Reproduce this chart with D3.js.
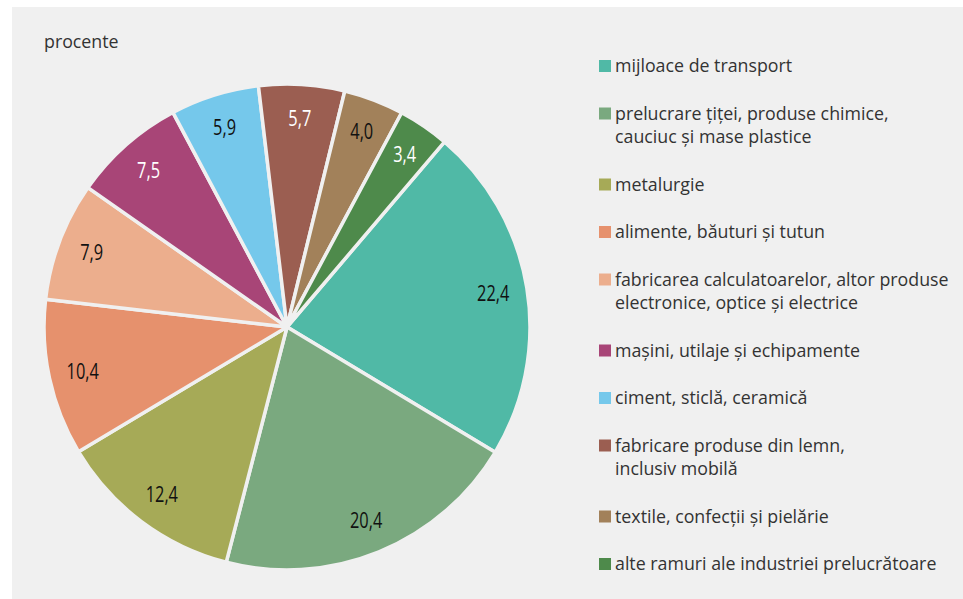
<!DOCTYPE html>
<html>
  <head>
    <meta charset="utf-8">
    <script type="text/javascript" src="https://cdn.jsdelivr.net/npm/d3@7/dist/d3.min.js"></script>
    <style>
      body { margin: 0; background: #fff; }
      svg text { font-family: "Open Sans", "Noto Sans", sans-serif; }
    </style>
  </head>
  <body>
    <div id="viz"></div>
    <script type="text/javascript">
      // ponderea ramurilor industriei prelucratoare, procente
      const categories = [
        "mijloace de transport",
        "prelucrare țiței, produse chimice, cauciuc și mase plastice",
        "metalurgie",
        "alimente, băuturi și tutun",
        "fabricarea calculatoarelor, altor produse electronice, optice și electrice",
        "mașini, utilaje și echipamente",
        "ciment, sticlă, ceramică",
        "fabricare produse din lemn, inclusiv mobilă",
        "textile, confecții și pielărie",
        "alte ramuri ale industriei prelucrătoare"
      ];
      const legendLines = [
        ["mijloace de transport"],
        ["prelucrare țiței, produse chimice,", "cauciuc și mase plastice"],
        ["metalurgie"],
        ["alimente, băuturi și tutun"],
        ["fabricarea calculatoarelor, altor produse", "electronice, optice și electrice"],
        ["mașini, utilaje și echipamente"],
        ["ciment, sticlă, ceramică"],
        ["fabricare produse din lemn,", "inclusiv mobilă"],
        ["textile, confecții și pielărie"],
        ["alte ramuri ale industriei prelucrătoare"]
      ];
      const values = [22.4, 20.4, 12.4, 10.4, 7.9, 7.5, 5.9, 5.7, 4.0, 3.4];
      const colors = ["#50b9a6", "#7aa97f", "#a6aa57", "#e6916d", "#ecae8d",
                      "#a84577", "#75c8eb", "#9b5e51", "#a2815a", "#4e8a4b"];
      const labelColors = ["#111", "#111", "#111", "#111", "#111",
                           "#fff", "#111", "#fff", "#111", "#fff"];

      const width = 963, height = 599;
      const bg = "#f0f0f0";

      const svg = d3.select("#viz")
        .append("svg")
        .attr("width", width)
        .attr("height", height);

      svg.append("rect")
        .attr("x", 12).attr("y", 7)
        .attr("width", width - 12).attr("height", height - 7)
        .attr("fill", bg);

      svg.append("text")
        .attr("x", 44).attr("y", 48)
        .attr("font-size", 17.8)
        .attr("fill", "#333")
        .text("procente");

      // pie
      const cx = 287, cy = 327, radius = 243;
      const start = 40.4 * Math.PI / 180;
      const pie = d3.pie().sort(null)
        .startAngle(start).endAngle(start + 2 * Math.PI);
      const arcs = pie(values);
      const arc = d3.arc().innerRadius(0).outerRadius(radius);
      const labelArc = d3.arc().innerRadius(radius * 0.86).outerRadius(radius * 0.86);

      const g = svg.append("g").attr("transform", "translate(" + cx + "," + cy + ")");

      g.selectAll("path.slice")
        .data(arcs)
        .enter()
        .append("path")
        .attr("class", "slice")
        .attr("d", arc)
        .attr("fill", (d, i) => colors[i])
        .attr("stroke", bg)
        .attr("stroke-width", 3.5)
        .attr("stroke-linejoin", "round");

      // condensed look for the value labels
      g.selectAll("text.val")
        .data(arcs)
        .enter()
        .append("text")
        .attr("class", "val")
        .attr("transform", d => "translate(" + labelArc.centroid(d) + ") scale(0.78,1)")
        .attr("text-anchor", "middle")
        .attr("dy", "0.36em")
        .attr("font-size", 21)
        .attr("fill", (d, i) => labelColors[i])
        .text(d => d3.format(".1f")(d.data).replace(".", ","));

      // legend
      const lx = 599, gap = 47.5, lineH = 23.5;
      let y = 72;
      const legend = svg.append("g");
      legendLines.forEach((lines, i) => {
        const row = legend.append("g").attr("transform", "translate(" + lx + "," + y + ")");
        row.append("rect")
          .attr("x", 0).attr("y", -12)
          .attr("width", 12).attr("height", 12)
          .attr("fill", colors[i]);
        row.selectAll("text")
          .data(lines)
          .enter()
          .append("text")
          .attr("x", 16)
          .attr("y", (d, j) => j * lineH)
          .attr("font-size", 17.8)
          .attr("fill", "#333")
          .text(d => d);
        y += (lines.length - 1) * lineH + gap;
      });
    </script>
  </body>
</html>
